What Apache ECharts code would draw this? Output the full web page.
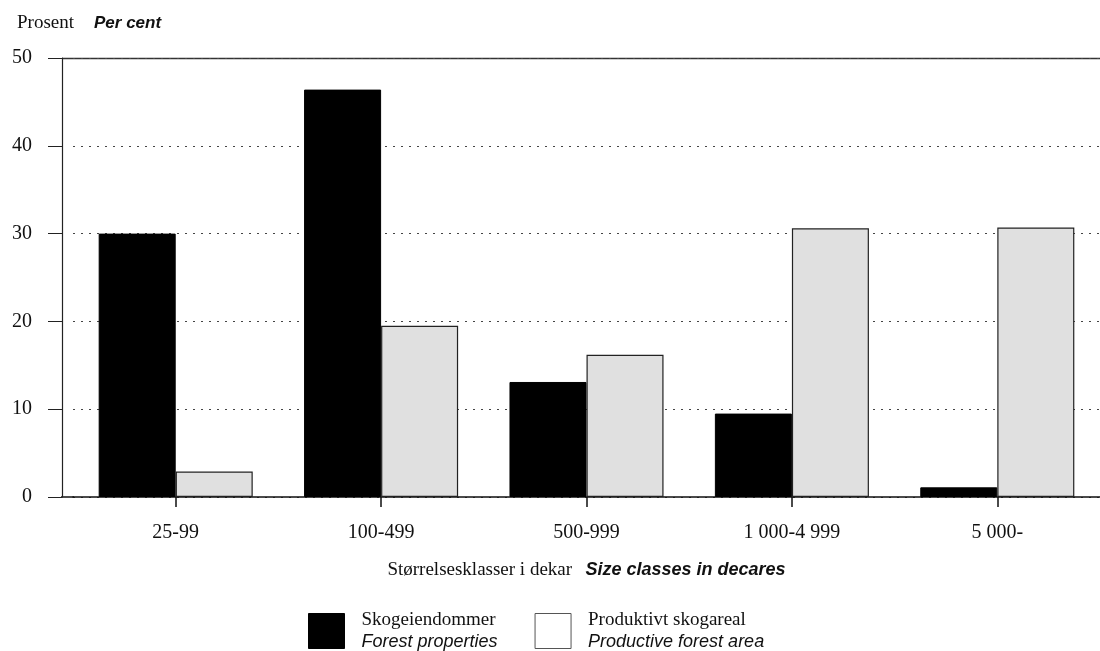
<!DOCTYPE html>
<html><head><meta charset="utf-8">
<script src="https://cdn.jsdelivr.net/npm/echarts@6/dist/echarts.min.js"></script>
<style>html,body{margin:0;padding:0;background:#fff}#c{width:1100px;height:651px}</style>
</head><body><div id="c"></div>
<script>
var categories = ['25-99', '100-499', '500-999', '1 000-4 999', '5 000-'];
var forestProperties = [30.0, 46.4, 13.1, 9.5, 1.1];
var productiveArea = [2.9, 19.5, 16.2, 30.6, 30.7];
var yTicks = [0, 10, 20, 30, 40, 50];
var seriesNames = ['Skogeiendommer', 'Produktivt skogareal'];
var seriesNamesEn = ['Forest properties', 'Productive forest area'];

var serif = 'Liberation Serif';
var sans = 'Liberation Sans';
var chart = echarts.init(document.getElementById('c'));
chart.setOption({
  animation: false,
  backgroundColor: '#fff',
  title: {
    left: 12, top: 9,
    text: '{a|Prosent}    {b|Per cent}',
    textStyle: {
      fontWeight: 'normal',
      rich: {
        a: {fontFamily: serif, fontSize: 19, fontWeight: 'normal', color: '#111'},
        b: {fontFamily: sans, fontSize: 17, fontStyle: 'italic', fontWeight: 'bold', color: '#111'}
      }
    }
  },
  grid: {left: 73, right: 0, top: 58, bottom: 154, containLabel: false},
  xAxis: {
    type: 'category',
    data: categories,
    axisLine: {lineStyle: {color: '#111', width: 1.5}},
    axisTick: {show: true, alignWithLabel: true, length: 10, lineStyle: {color: '#111', width: 1.5}},
    axisLabel: {fontFamily: serif, fontSize: 20, color: '#111', margin: 26},
    name: '{a|Størrelsesklasser i dekar}    {b|Size classes in decares}',
    nameLocation: 'middle',
    nameGap: 64,
    nameTextStyle: {
      rich: {
        a: {fontFamily: serif, fontSize: 19, color: '#111'},
        b: {fontFamily: sans, fontSize: 18, fontStyle: 'italic', fontWeight: 'bold', color: '#111'}
      }
    }
  },
  yAxis: {
    type: 'value',
    min: 0, max: 50, interval: 10,
    offset: 11,
    axisLine: {show: true, lineStyle: {color: '#222', width: 1.2}},
    axisTick: {show: true, length: 14, lineStyle: {color: '#222'}},
    axisLabel: {fontFamily: serif, fontSize: 20, color: '#111', margin: 30,
      formatter: function (v) { return yTicks.indexOf(v) >= 0 ? String(v) : ''; }},
    splitLine: {show: true, lineStyle: {color: '#444', type: [2, 6], width: 1}}
  },
  legend: {
    left: 303, top: 606,
    itemWidth: 36, itemHeight: 35, itemGap: 37,
    icon: 'rect',
    selectedMode: false,
    data: [
      {name: seriesNames[0], itemStyle: {color: '#000', borderColor: '#000', borderWidth: 1}},
      {name: seriesNames[1], itemStyle: {color: '#fff', borderColor: '#555', borderWidth: 1}}
    ],
    formatter: function (n) {
      var i = seriesNames.indexOf(n);
      return '{a|' + n + '}\n{b|' + seriesNamesEn[i] + '}';
    },
    textStyle: {
      padding: [0, 0, 0, 12],
      rich: {
        a: {fontFamily: serif, fontSize: 19, color: '#111', lineHeight: 21},
        b: {fontFamily: sans, fontSize: 18, fontStyle: 'italic', color: '#111', lineHeight: 21}
      }
    }
  },
  graphic: [
    {type: 'line', shape: {x1: 62, y1: 58.5, x2: 1100, y2: 58.5}, style: {stroke: '#333', lineWidth: 1.5}},
    {type: 'line', shape: {x1: 61, y1: 497, x2: 74, y2: 497}, style: {stroke: '#111', lineWidth: 1.5}}
  ],
  series: [
    {
      name: seriesNames[0], type: 'bar', data: forestProperties,
      barGap: '0%', barCategoryGap: '25%',
      itemStyle: {color: '#000', borderColor: '#000', borderWidth: 1}
    },
    {
      name: seriesNames[1], type: 'bar', data: productiveArea,
      itemStyle: {color: '#e0e0e0', borderColor: '#222', borderWidth: 1.2}
    }
  ]
});
</script></body></html>
